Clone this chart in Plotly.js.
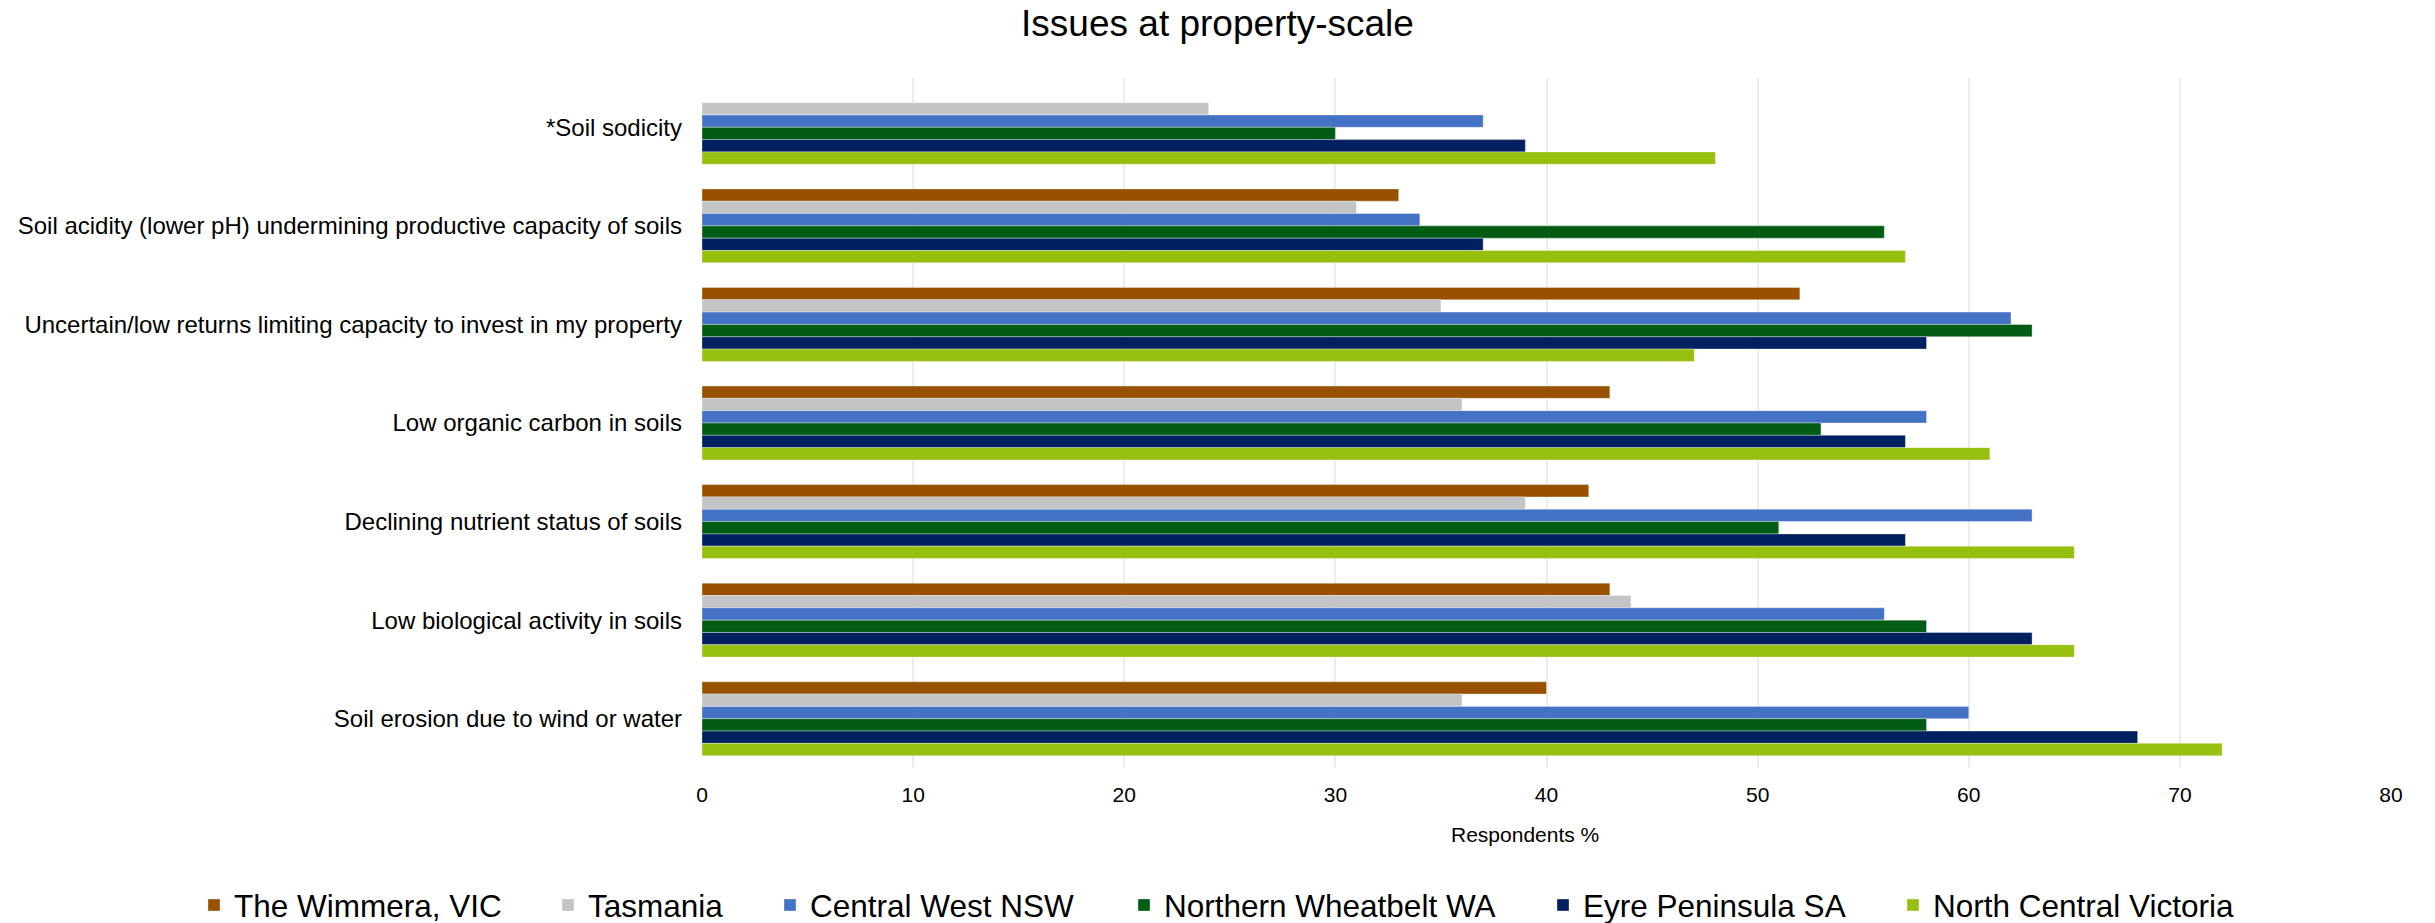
<!DOCTYPE html>
<html>
<head>
<meta charset="utf-8">
<script src="https://cdn.plot.ly/plotly-3.0.1.min.js"></script>
<style>
  html, body { margin: 0; padding: 0; background: #ffffff; }
  #chart { width: 2435px; height: 923px; }
</style>
</head>
<body>
<div id="chart"></div>
<script>
// Issues listed top to bottom as they appear on the chart
const issues = [
  "*Soil sodicity",
  "Soil acidity (lower pH) undermining productive capacity of soils",
  "Uncertain/low returns limiting capacity to invest in my property",
  "Low organic carbon in soils",
  "Declining nutrient status of soils",
  "Low biological activity in soils",
  "Soil erosion due to wind or water"
];

// Respondents (%) per region, same order as issues
const wimmera           = [null, 33, 52, 43, 42, 43, 40];
const tasmania          = [24, 31, 35, 36, 39, 44, 36];
const centralWestNSW    = [37, 34, 62, 58, 63, 56, 60];
const northernWheatbelt = [30, 56, 63, 53, 51, 58, 58];
const eyrePeninsula     = [39, 37, 58, 57, 57, 63, 68];
const northCentralVic   = [48, 57, 47, 61, 65, 65, 72];

const regionNames = [
  "The Wimmera, VIC",
  "Tasmania",
  "Central West NSW",
  "Northern Wheatbelt WA",
  "Eyre Peninsula SA",
  "North Central Victoria"
];
const regionValues = [wimmera, tasmania, centralWestNSW, northernWheatbelt, eyrePeninsula, northCentralVic];
const regionColors = ["#975100", "#C3C4C6", "#4472C4", "#025C13", "#00205F", "#97BF0F"];

const xAxisTitle = "Respondents %";

const fontFamily = "'Liberation Sans', Arial, sans-serif";

// Each region gets its own one-entry legend so the entries can be spaced out along the bottom
const legendIds = regionNames.map((_, i) => i === 0 ? "legend" : "legend" + (i + 1));
const legendLeftPx = [194, 548, 770, 1124, 1543, 1893];

const traces = regionNames.map((name, i) => ({
  type: "bar",
  orientation: "h",
  name: name,
  y: issues,
  x: regionValues[i],
  legend: legendIds[i],
  marker: {
    color: regionColors[i],
    line: { color: "rgba(255,255,255,0.35)", width: 1 }
  },
  hovertemplate: "%{y}<br>" + name + ": %{x}%<extra></extra>"
}));

const layout = {
  width: 2435,
  height: 923,
  paper_bgcolor: "#ffffff",
  plot_bgcolor: "#ffffff",
  font: { family: fontFamily, color: "#000000", size: 21 },
  title: {
    text: "Issues at property-scale",
    font: { family: fontFamily, size: 37, color: "#000000" },
    x: 0.5,
    xanchor: "center",
    y: 0.975,
    yanchor: "middle"
  },
  margin: { l: 702, r: 44, t: 78, b: 155, autoexpand: false },
  barmode: "group",
  bargap: 0.25,
  bargroupgap: 0,
  xaxis: {
    range: [0, 80],
    dtick: 10,
    tick0: 0,
    showgrid: true,
    gridcolor: "#ececec",
    gridwidth: 2,
    zeroline: false,
    showline: false,
    ticks: "",
    ticklabelstandoff: 12,
    tickfont: { family: fontFamily, size: 21, color: "#000000" }
  },
  yaxis: {
    autorange: "reversed",
    showgrid: false,
    zeroline: false,
    showline: false,
    ticks: "",
    ticklabelstandoff: 19,
    tickfont: { family: fontFamily, size: 24, color: "#000000" }
  },
  // Axis title sits slightly left of the plot centre, so it is placed as an annotation
  annotations: [{
    text: xAxisTitle,
    xref: "paper",
    yref: "paper",
    x: 0.487,
    y: -0.0957,
    xanchor: "center",
    yanchor: "middle",
    showarrow: false,
    font: { family: fontFamily, size: 21, color: "#000000" }
  }],
  showlegend: true
};

legendIds.forEach((id, i) => {
  layout[id] = {
    orientation: "h",
    xref: "container",
    yref: "container",
    x: legendLeftPx[i] / 2435,
    xanchor: "left",
    y: 1 - 905 / 923,
    yanchor: "middle",
    bgcolor: "rgba(0,0,0,0)",
    font: { family: fontFamily, size: 31.5, color: "#000000" }
  };
});

Plotly.newPlot("chart", traces, layout, { displayModeBar: false, responsive: false });
</script>
</body>
</html>
